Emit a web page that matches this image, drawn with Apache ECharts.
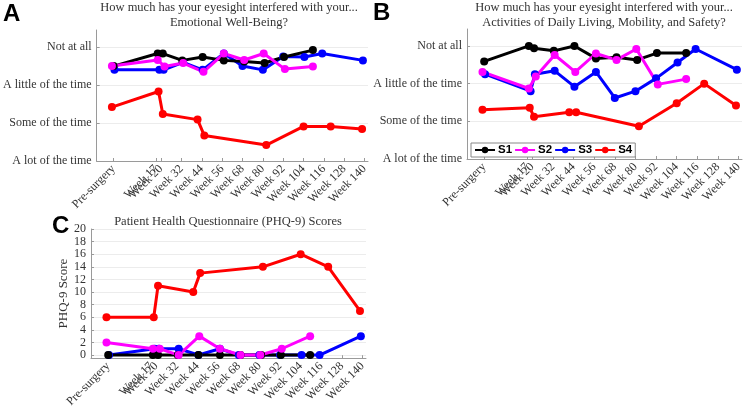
<!DOCTYPE html>
<html>
<head>
<meta charset="utf-8">
<script src="https://cdn.jsdelivr.net/npm/echarts@6/dist/echarts.min.js"></script>
<style>
  html, body { margin: 0; padding: 0; background: #fff; }
  #chart { width: 749px; height: 410px; }
</style>
</head>
<body>
<div id="chart"></div>
<script>
// x positions are study weeks, pre-surgery drawn at week -8
const weekTicks = [-8, 17, 20, 32, 44, 56, 68, 80, 92, 104, 116, 128, 140];
const weekLabels = ['Pre-surgery', 'Week 17', 'Week 20', 'Week 32', 'Week 44', 'Week 56', 'Week 68',
  'Week 80', 'Week 92', 'Week 104', 'Week 116', 'Week 128', 'Week 140'];
const levelTicks = [1, 2, 3, 4];
const levelLabels = ['A lot of the time', 'Some of the time', 'A little of the time', 'Not at all'];
const phqTicks = [0, 2, 4, 6, 8, 10, 12, 14, 16, 18, 20];

// S1
const s1Weeks = [-8, 18, 21, 32.5, 44.5, 57, 69, 81, 92.5, 109.5];
const s1Emotional = [3.5, 3.83, 3.83, 3.65, 3.74, 3.65, 3.62, 3.58, 3.74, 3.92];
const s1Daily = [3.59, 4.0, 3.94, 3.87, 4.0, 3.67, 3.7, 3.63, 3.81, 3.81];
const s1Phq = [0, 0, 0, 0, 0, 0, 0, 0, 0, 0];
// S2
const s2Weeks = [-9, 18, 22, 33, 45, 57, 69, 80.5, 93, 109.5];
const s2Emotional = [3.5, 3.66, 3.49, 3.58, 3.35, 3.83, 3.66, 3.83, 3.42, 3.49];
const s2Daily = [3.31, 2.87, 3.19, 3.76, 3.31, 3.8, 3.63, 3.92, 2.98, 3.12];
const s2Phq = [2, 1, 1, 0, 3, 1, 0, 0, 1, 3];
// S3
const s3Weeks = [-7.5, 19, 21.5, 33, 44.5, 57, 68, 80, 92, 104.5, 115, 139];
const s3Emotional = [3.4, 3.4, 3.4, 3.6, 3.4, 3.83, 3.5, 3.4, 3.75, 3.74, 3.83, 3.65];
const s3Daily = [3.25, 2.8, 3.25, 3.34, 2.92, 3.31, 2.62, 2.8, 3.14, 3.56, 3.92, 3.37];
const s3Phq = [0, 1, 1, 1, 0, 1, 0, 0, 0, 0, 0, 3];
// S4
const s4Weeks = [-9, 18.5, 21, 41.5, 45.5, 82, 104, 120, 138.5];
const s4Emotional = [2.42, 2.83, 2.24, 2.09, 1.67, 1.42, 1.91, 1.91, 1.84];
const s4Daily = [2.31, 2.36, 2.12, 2.24, 2.24, 1.87, 2.48, 3.0, 2.42];
const s4Phq = [6, 6, 11, 10, 13, 14, 16, 14, 7];

const serif = 'Liberation Serif';
const textColor = '#333';
const axisColor = '#9a9a9a';

const subjects = [
  { name: 'S3', color: '#0000ff', weeks: s3Weeks, vals: [s3Emotional, s3Daily, s3Phq] },
  { name: 'S1', color: '#000000', weeks: s1Weeks, vals: [s1Emotional, s1Daily, s1Phq] },
  { name: 'S2', color: '#ff00ff', weeks: s2Weeks, vals: [s2Emotional, s2Daily, s2Phq] },
  { name: 'S4', color: '#ff0000', weeks: s4Weeks, vals: [s4Emotional, s4Daily, s4Phq] },
];

function zip(xs, ys) {
  return xs.map((x, i) => [x, ys[i]]);
}

function xAxisFor(gridIndex) {
  return {
    type: 'value',
    gridIndex: gridIndex,
    min: -18,
    max: 142,
    axisLine: { onZero: false, lineStyle: { color: axisColor, width: 1 } },
    axisTick: { inside: true, length: 3, customValues: weekTicks, lineStyle: { color: axisColor } },
    axisLabel: {
      customValues: weekTicks,
      rotate: 45,
      margin: 6,
      fontFamily: serif,
      fontSize: 12,
      color: textColor,
      formatter: (v) => weekLabels[weekTicks.indexOf(v)] || '',
    },
    splitLine: { show: false },
  };
}

function levelAxis(gridIndex) {
  return {
    type: 'value',
    gridIndex: gridIndex,
    min: 1,
    max: 4.45,
    axisLine: { show: true, onZero: false, lineStyle: { color: axisColor, width: 1 } },
    axisTick: { show: true, inside: true, length: 3, customValues: levelTicks, lineStyle: { color: axisColor } },
    axisLabel: {
      customValues: levelTicks,
      margin: 5,
      fontFamily: serif,
      fontSize: 12,
      color: textColor,
      formatter: (v) => levelLabels[levelTicks.indexOf(v)] || '',
    },
    splitLine: { show: true, lineStyle: { color: '#ececec', width: 1 } },
  };
}

const series = [];
[0, 1, 2].forEach((panel) => {
  subjects.forEach((s) => {
    series.push({
      name: s.name,
      type: 'line',
      xAxisIndex: panel,
      yAxisIndex: panel,
      data: zip(s.weeks, s.vals[panel]),
      symbol: 'circle',
      symbolSize: 8,
      showSymbol: true,
      color: s.color,
      lineStyle: { width: 3, color: s.color },
      itemStyle: { color: s.color },
      z: 2,
    });
  });
});

const titleStyle = { fontFamily: serif, fontSize: 12.5, fontWeight: 'normal', color: textColor, lineHeight: 15 };

const option = {
  animation: false,
  backgroundColor: '#fff',
  title: [
    { text: 'How much has your eyesight interfered with your...\nEmotional Well-Being?', left: 229, top: 0, textAlign: 'center', textStyle: titleStyle, padding: 0 },
    { text: 'How much has your eyesight interfered with your...\nActivities of Daily Living, Mobility, and Safety?', left: 604, top: 0, textAlign: 'center', textStyle: titleStyle, padding: 0 },
    { text: 'Patient Health Questionnaire (PHQ-9) Scores', left: 228, top: 214, textAlign: 'center', textStyle: titleStyle, padding: 0 },
  ],
  graphic: [
    { type: 'text', left: 3, top: 2, style: { text: 'A', font: 'bold 24px "Liberation Sans"', fill: '#000' } },
    { type: 'text', left: 373, top: 1, style: { text: 'B', font: 'bold 24px "Liberation Sans"', fill: '#000' } },
    { type: 'text', left: 52, top: 214, style: { text: 'C', font: 'bold 24px "Liberation Sans"', fill: '#000' } },
  ],
  legend: {
    data: ['S1', 'S2', 'S3', 'S4'],
    left: 471,
    top: 143,
    orient: 'horizontal',
    itemWidth: 20,
    itemHeight: 8,
    itemGap: 2,
    padding: [1, 3],
    borderColor: '#888',
    borderWidth: 1,
    backgroundColor: '#fff',
    textStyle: { fontFamily: 'Liberation Sans', fontWeight: 'bold', fontSize: 11.5, color: '#000', padding: [0, 0, 0, -2] },
  },
  grid: [
    { left: 92, top: 30, width: 276, height: 131 },
    { left: 467, top: 29, width: 275, height: 130 },
    { left: 91, top: 229, width: 275, height: 131 },
  ],
  xAxis: [xAxisFor(0), xAxisFor(1), xAxisFor(2)],
  yAxis: [
    levelAxis(0),
    levelAxis(1),
    {
      type: 'value',
      gridIndex: 2,
      min: -0.5,
      max: 20,
      name: 'PHQ-9 Score',
      nameLocation: 'middle',
      nameGap: 20,
      nameTextStyle: { fontFamily: serif, fontSize: 13, color: textColor },
      axisLine: { show: true, onZero: false, lineStyle: { color: axisColor, width: 1 } },
      axisTick: { show: true, inside: true, length: 3, customValues: phqTicks, lineStyle: { color: axisColor } },
      axisLabel: { customValues: phqTicks, margin: 5, fontFamily: serif, fontSize: 12, color: textColor },
      splitLine: { show: true, lineStyle: { color: '#ececec', width: 1 } },
    },
  ],
  series: series,
};

const myChart = echarts.init(document.getElementById('chart'), null, { renderer: 'canvas' });
myChart.setOption(option);
</script>
</body>
</html>
